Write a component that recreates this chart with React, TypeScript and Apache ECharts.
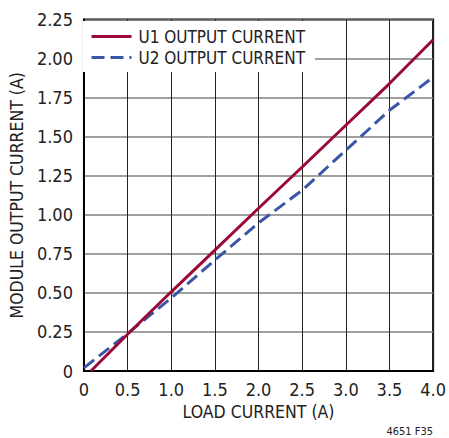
import React, { useEffect, useRef } from "react";
import * as echarts from "echarts";

const loadCurrent = [0, 0.5, 1.0, 1.5, 2.0, 2.5, 3.0, 3.5, 4.0];
const u1X = [0.08, 0.5, 1.0, 1.5, 2.0, 2.5, 3.0, 3.5, 4.0];
const u1Output = [0, 0.235, 0.507, 0.774, 1.042, 1.306, 1.573, 1.84, 2.12];
const u2Output = [0.02, 0.24, 0.467, 0.71, 0.948, 1.157, 1.413, 1.669, 1.88];
const xTickLabels = ["0", "0.5", "1.0", "1.5", "2.0", "2.5", "3.0", "3.5", "4.0"];
const yTickLabels = ["0", "0.25", "0.50", "0.75", "1.00", "1.25", "1.50", "1.75", "2.00", "2.25"];

const FONT = "'DejaVu Sans Condensed', 'Liberation Sans', sans-serif";

export default function App() {
  const ref = useRef<HTMLDivElement>(null);
  useEffect(() => {
    if (!ref.current) return;
    const chart = echarts.init(ref.current, undefined, { renderer: "svg" });
    chart.setOption({
      animation: false,
      backgroundColor: "#fff",
      textStyle: { fontFamily: FONT },
      grid: {
        left: 82,
        right: 15,
        top: 19.5,
        bottom: 67,
        show: true,
        borderColor: "#000",
        borderWidth: 2,
        backgroundColor: "transparent",
      },
      legend: {
        left: 83,
        top: 21,
        orient: "vertical",
        backgroundColor: "#fff",
        padding: [7, 10, 6, 7],
        itemGap: 4,
        itemWidth: 40,
        itemHeight: 17,
        itemStyle: { opacity: 0 },
        lineStyle: { width: 3 },
        data: ["U1 OUTPUT CURRENT", "U2 OUTPUT CURRENT"],
        textStyle: { fontFamily: FONT, fontSize: 17, color: "#222", padding: [0, 0, 0, 2] },
      },
      xAxis: {
        type: "value",
        min: 0,
        max: 4,
        interval: 0.5,
        name: "LOAD CURRENT (A)",
        nameLocation: "middle",
        nameGap: 32,
        nameTextStyle: { fontFamily: FONT, fontSize: 17.5, color: "#222" },
        axisLine: { show: true, lineStyle: { color: "#000", width: 2 } },
        axisTick: { show: false },
        axisLabel: {
          fontFamily: FONT,
          fontSize: 18,
          color: "#222",
          margin: 9,
          formatter: (v: number) => xTickLabels[Math.round(v / 0.5)] ?? "",
        },
        splitLine: { show: true, lineStyle: { color: "#222", width: 1 } },
      },
      yAxis: {
        type: "value",
        min: 0,
        max: 2.25,
        interval: 0.25,
        name: "MODULE OUTPUT CURRENT (A)",
        nameLocation: "middle",
        nameGap: 56,
        nameTextStyle: { fontFamily: FONT, fontSize: 17.5, color: "#222" },
        axisLine: { show: true, lineStyle: { color: "#000", width: 2 } },
        axisTick: { show: false },
        axisLabel: {
          fontFamily: FONT,
          fontSize: 18,
          color: "#222",
          margin: 11,
          formatter: (v: number) => yTickLabels[Math.round(v / 0.25)] ?? "",
        },
        splitLine: { show: true, lineStyle: { color: "#808080", width: 1.5 } },
      },
      graphic: [
        {
          type: "text",
          right: 16,
          top: 426,
          style: { text: "4651 F35", fontFamily: FONT, fontSize: 11, fill: "#222" },
        },
      ],
      series: [
        {
          name: "U1 OUTPUT CURRENT",
          type: "line",
          symbol: "none",
          data: u1X.map((x, i) => [x, u1Output[i]]),
          lineStyle: { color: "#9b0a36", width: 3 },
          itemStyle: { color: "#9b0a36" },
          z: 3,
        },
        {
          name: "U2 OUTPUT CURRENT",
          type: "line",
          symbol: "none",
          data: loadCurrent.map((x, i) => [x, u2Output[i]]),
          lineStyle: { color: "#3a56a6", width: 3, type: [13, 6] },
          itemStyle: { color: "#3a56a6" },
          z: 2,
        },
      ],
    });
    return () => chart.dispose();
  }, []);
  return <div ref={ref} style={{ width: 449, height: 438, position: "absolute", left: 0, top: 0 }} />;
}
